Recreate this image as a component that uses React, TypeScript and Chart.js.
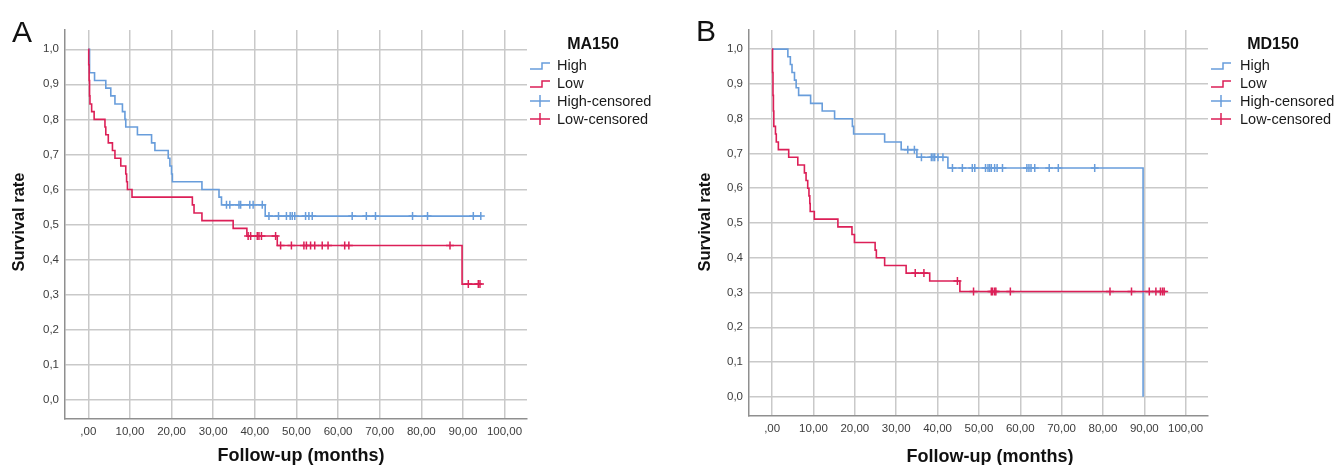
import React, { useEffect, useRef } from 'react';
import { Chart, registerables } from 'chart.js';

Chart.register(...registerables);

// ---------- shared labels / ticks ----------
const X_TICKS = [0, 10, 20, 30, 40, 50, 60, 70, 80, 90, 100];
const Y_TICKS = [0, 0.1, 0.2, 0.3, 0.4, 0.5, 0.6, 0.7, 0.8, 0.9, 1.0];
const X_MIN = -5.6;
const X_MAX = 105.4;
const Y_MIN = -0.055;
const Y_MAX = 1.055;
const X_TITLE = 'Follow-up (months)';
const Y_TITLE = 'Survival rate';
const LEGEND_LABELS = ['High', 'Low', 'High-censored', 'Low-censored'];
const PANEL_LETTERS = ['A', 'B'];
const LEGEND_TITLES = ['MA150', 'MD150'];

// ---------- Panel A (MA150) ----------
const A_HIGH_TIMES = [0, 0.3, 1.5, 4.2, 5.4, 6.4, 8.2, 8.8, 9.0, 11.8, 15.2, 16.0, 19.2, 19.6, 20.0, 20.2, 27.3, 31.4, 32.0, 42.5];
const A_HIGH_SURV = [1.0, 0.933, 0.911, 0.889, 0.867, 0.844, 0.822, 0.8, 0.778, 0.756, 0.733, 0.711, 0.689, 0.667, 0.644, 0.622, 0.6, 0.578, 0.556, 0.524];
const A_HIGH_END = 94.3;
const A_HIGH_CENSORED = [33.2, 34.0, 36.2, 36.6, 38.8, 39.6, 41.8, 43.4, 45.7, 47.6, 48.5, 49.0, 49.6, 52.2, 53.0, 53.8, 63.4, 66.8, 69.0, 77.9, 81.5, 92.5, 94.3];

const A_LOW_TIMES = [0, 0.1, 0.2, 0.3, 0.4, 0.8, 1.4, 4.0, 4.2, 4.8, 5.8, 6.4, 7.8, 9.0, 9.2, 9.4, 10.5, 25.0, 25.4, 27.3, 34.8, 38.1, 45.4, 89.8];
const A_LOW_SURV = [1.0, 0.956, 0.911, 0.867, 0.844, 0.822, 0.8, 0.778, 0.756, 0.733, 0.711, 0.689, 0.667, 0.644, 0.622, 0.6, 0.578, 0.556, 0.533, 0.511, 0.489, 0.467, 0.44, 0.33];
const A_LOW_END = 94.3;
const A_LOW_CENSORED = [38.4, 39.0, 40.6, 41.0, 41.6, 45.0, 46.2, 48.8, 51.8, 52.4, 53.4, 54.4, 56.2, 57.6, 61.6, 62.6, 86.9, 91.3, 93.7, 94.1];

// ---------- Panel B (MD150) ----------
const B_HIGH_TIMES = [0, 3.8, 4.4, 4.8, 5.4, 5.8, 6.4, 9.3, 12.1, 15.1, 19.4, 19.7, 27.2, 31.2, 35.0, 42.5, 89.7];
const B_HIGH_SURV = [1.0, 0.978, 0.956, 0.933, 0.911, 0.889, 0.867, 0.844, 0.822, 0.8, 0.778, 0.756, 0.733, 0.711, 0.689, 0.658, 0.0];
const B_HIGH_END = 89.7;
const B_HIGH_CENSORED = [32.8, 34.4, 36.1, 38.5, 38.9, 39.3, 40.1, 41.3, 43.6, 46.0, 48.4, 49.0, 51.6, 52.2, 52.6, 53.0, 53.8, 54.4, 55.7, 61.6, 62.1, 62.6, 63.5, 67.0, 69.2, 78.0];

const B_LOW_TIMES = [0, 0.1, 0.2, 0.3, 0.4, 0.8, 1.0, 1.5, 4.0, 6.2, 7.8, 8.2, 8.6, 8.9, 9.1, 9.2, 10.2, 15.9, 19.3, 19.9, 24.9, 25.2, 27.2, 32.4, 38.1, 45.4];
const B_LOW_SURV = [1.0, 0.933, 0.867, 0.822, 0.778, 0.756, 0.733, 0.711, 0.689, 0.667, 0.644, 0.622, 0.6, 0.578, 0.556, 0.533, 0.511, 0.489, 0.467, 0.444, 0.422, 0.4, 0.378, 0.356, 0.333, 0.303];
const B_LOW_END = 95.0;
const B_LOW_CENSORED = [34.6, 36.7, 44.8, 48.7, 53.0, 53.3, 53.8, 54.1, 57.6, 81.7, 86.9, 91.2, 92.8, 93.9, 94.4, 94.8];

// ---------- styling ----------
const BLUE = '#689ddb';
const RED = '#dc1f57';
const GRID = '#c9c9c9';
const AXIS = '#8f8f8f';
const FONT = '"Liberation Sans", Arial, sans-serif';

type Curve = { t: number[]; s: number[]; end: number; cens: number[] };
type Geo = {
  canvasLeft: number;
  width: number;
  axisW: number;
  padR: number;
  axisH: number;
  letterX: number;
  letterY: number;
  yTitleX: number;
  yTitleY: number;
  xTitleX: number;
  xTitleY: number;
  legSymX: number;
  legTextX: number;
  legTitleX: number;
  legTitleY: number;
  legRowY: number[];
};

function curvePoints(c: Curve) {
  const pts = c.t.map((t, i) => ({ x: t, y: c.s[i] }));
  const last = c.t[c.t.length - 1];
  if (c.end > last) pts.push({ x: c.end, y: c.s[c.s.length - 1] });
  return pts;
}

function survAt(c: Curve, time: number) {
  let v = c.s[0];
  for (let i = 0; i < c.t.length; i++) if (c.t[i] <= time) v = c.s[i];
  return v;
}

function censorPoints(c: Curve) {
  return c.cens.map((t) => ({ x: t, y: survAt(c, t) }));
}

function Panel({ letter, legendTitle, high, low, g }: { letter: string; legendTitle: string; high: Curve; low: Curve; g: Geo }) {
  const ref = useRef<HTMLCanvasElement | null>(null);

  useEffect(() => {
    if (!ref.current) return;
    const decor = {
      id: 'decor',
      afterDraw(chart: any) {
        const ctx = chart.ctx as CanvasRenderingContext2D;
        ctx.save();
        ctx.fillStyle = '#111';
        ctx.textAlign = 'left';
        ctx.textBaseline = 'alphabetic';
        ctx.font = `30px ${FONT}`;
        ctx.fillText(letter, g.letterX, g.letterY);

        // axis titles
        ctx.font = `bold 18px ${FONT}`;
        ctx.textAlign = 'center';
        ctx.textBaseline = 'middle';
        ctx.fillText(X_TITLE, g.xTitleX, g.xTitleY);
        ctx.font = `bold 16.5px ${FONT}`;
        ctx.save();
        ctx.translate(g.yTitleX, g.yTitleY);
        ctx.rotate(-Math.PI / 2);
        ctx.fillText(Y_TITLE, 0, 0);
        ctx.restore();

        // legend
        ctx.font = `bold 16px ${FONT}`;
        ctx.fillText(legendTitle, g.legTitleX, g.legTitleY);
        ctx.font = `14.5px ${FONT}`;
        ctx.textAlign = 'left';
        const colors = [BLUE, RED, BLUE, RED];
        LEGEND_LABELS.forEach((lab, i) => {
          const y = g.legRowY[i];
          const x0 = g.legSymX;
          const x1 = x0 + 20;
          ctx.strokeStyle = colors[i];
          ctx.lineWidth = 1.5;
          ctx.beginPath();
          if (i < 2) {
            const xm = x0 + 12;
            ctx.moveTo(x0, y + 4);
            ctx.lineTo(xm, y + 4);
            ctx.lineTo(xm, y - 2);
            ctx.lineTo(x1, y - 2);
          } else {
            const xm = x0 + 10;
            ctx.moveTo(x0, y);
            ctx.lineTo(x1, y);
            ctx.moveTo(xm, y - 6);
            ctx.lineTo(xm, y + 6);
          }
          ctx.stroke();
          ctx.fillStyle = '#1a1a1a';
          ctx.fillText(lab, g.legTextX, y + 1);
        });
        ctx.restore();
      },
    };

    const chart = new Chart(ref.current, {
      type: 'scatter',
      data: {
        datasets: [
          {
            label: 'Low',
            data: curvePoints(low),
            showLine: true,
            stepped: 'before',
            borderColor: RED,
            borderWidth: 1.6,
            pointRadius: 0,
            fill: false,
          },
          {
            label: 'Low-censored',
            data: censorPoints(low),
            showLine: false,
            pointStyle: 'cross',
            pointRadius: 4,
            pointBorderWidth: 1.5,
            pointBorderColor: RED,
            borderColor: RED,
          },
          {
            label: 'High',
            data: curvePoints(high),
            showLine: true,
            stepped: 'before',
            borderColor: BLUE,
            borderWidth: 1.6,
            pointRadius: 0,
            fill: false,
          },
          {
            label: 'High-censored',
            data: censorPoints(high),
            showLine: false,
            pointStyle: 'cross',
            pointRadius: 4,
            pointBorderWidth: 1.5,
            pointBorderColor: BLUE,
            borderColor: BLUE,
          },
        ] as any,
      },
      options: {
        animation: false,
        responsive: false,
        maintainAspectRatio: false,
        layout: { padding: { top: 30, right: g.padR, left: 0, bottom: 0 } },
        plugins: { legend: { display: false }, tooltip: { enabled: false }, title: { display: false } },
        scales: {
          x: {
            type: 'linear',
            min: X_MIN,
            max: X_MAX,
            afterBuildTicks: (s: any) => {
              s.ticks = X_TICKS.map((v) => ({ value: v }));
            },
            afterFit: (s: any) => {
              s.height = g.axisH;
            },
            grid: { color: GRID, lineWidth: 1.5, drawTicks: false },
            border: { display: true, color: AXIS, width: 1.5 },
            ticks: {
              padding: 6,
              color: '#3c3c3c',
              font: { family: FONT, size: 11.5 },
              maxRotation: 0,
              autoSkip: false,
              callback: (v: any) => (Number(v) === 0 ? ',00' : Number(v).toFixed(2).replace('.', ',')),
            },
          },
          y: {
            type: 'linear',
            min: Y_MIN,
            max: Y_MAX,
            afterBuildTicks: (s: any) => {
              s.ticks = Y_TICKS.map((v) => ({ value: v }));
            },
            afterFit: (s: any) => {
              s.width = g.axisW;
            },
            grid: { color: GRID, lineWidth: 1.5, drawTicks: false },
            border: { display: true, color: AXIS, width: 1.5 },
            ticks: {
              padding: 6,
              color: '#3c3c3c',
              font: { family: FONT, size: 11.5 },
              autoSkip: false,
              callback: (v: any) => Number(v).toFixed(1).replace('.', ','),
            },
          },
        },
      } as any,
      plugins: [decor],
    });
    return () => chart.destroy();
  }, []);

  return (
    <canvas
      ref={ref}
      width={g.width}
      height={465}
      style={{ position: 'absolute', left: g.canvasLeft, top: 0, width: g.width, height: 465, display: 'block' }}
    />
  );
}

const GEO_A: Geo = {
  canvasLeft: 0,
  width: 668,
  axisW: 65,
  padR: 141,
  axisH: 46,
  letterX: 12,
  letterY: 42,
  yTitleX: 19,
  yTitleY: 222,
  xTitleX: 301,
  xTitleY: 456,
  legSymX: 530,
  legTextX: 557,
  legTitleX: 593,
  legTitleY: 45,
  legRowY: [65, 83, 101, 119],
};

const GEO_B: Geo = {
  canvasLeft: 668,
  width: 669,
  axisW: 81,
  padR: 129,
  axisH: 49,
  letterX: 28,
  letterY: 41,
  yTitleX: 37,
  yTitleY: 222,
  xTitleX: 322,
  xTitleY: 457,
  legSymX: 543,
  legTextX: 572,
  legTitleX: 605,
  legTitleY: 45,
  legRowY: [65, 83, 101, 119],
};

export default function App() {
  const aHigh: Curve = { t: A_HIGH_TIMES, s: A_HIGH_SURV, end: A_HIGH_END, cens: A_HIGH_CENSORED };
  const aLow: Curve = { t: A_LOW_TIMES, s: A_LOW_SURV, end: A_LOW_END, cens: A_LOW_CENSORED };
  const bHigh: Curve = { t: B_HIGH_TIMES, s: B_HIGH_SURV, end: B_HIGH_END, cens: B_HIGH_CENSORED };
  const bLow: Curve = { t: B_LOW_TIMES, s: B_LOW_SURV, end: B_LOW_END, cens: B_LOW_CENSORED };
  return (
    <div style={{ position: 'absolute', left: 0, top: 0, width: 1337, height: 465, background: '#fff', overflow: 'hidden' }}>
      <Panel letter={PANEL_LETTERS[0]} legendTitle={LEGEND_TITLES[0]} high={aHigh} low={aLow} g={GEO_A} />
      <Panel letter={PANEL_LETTERS[1]} legendTitle={LEGEND_TITLES[1]} high={bHigh} low={bLow} g={GEO_B} />
    </div>
  );
}
